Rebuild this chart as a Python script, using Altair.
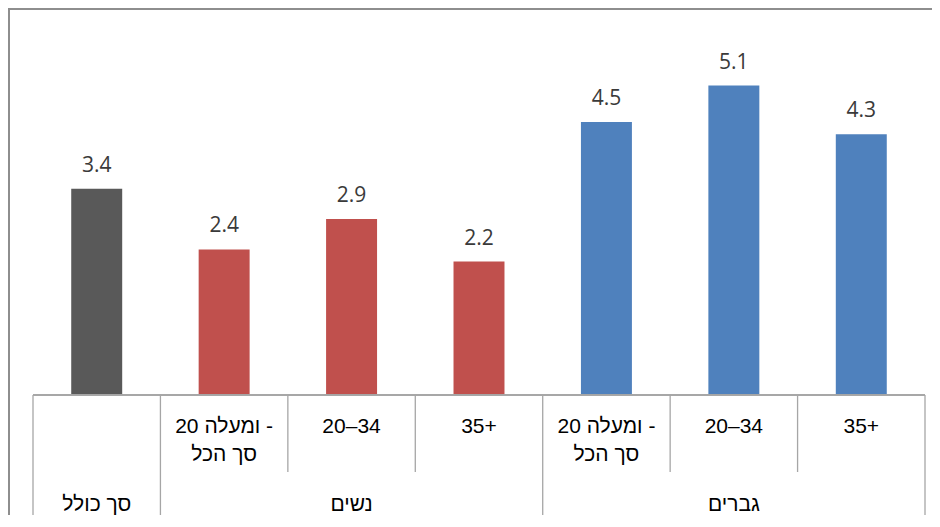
import altair as alt
import pandas as pd

# ---- data ----
values = [3.4, 2.4, 2.9, 2.2, 4.5, 5.1, 4.3]
row1_labels = ["", "\u202A20 ומעלה -\u202C", "20–34", "35+", "\u202A20 ומעלה -\u202C", "20–34", "35+"]
row2_labels = ["", "סך הכל", "", "", "סך הכל", "", ""]
groups = ["סך כולל", "נשים", "גברים"]
group_sizes = [1, 3, 3]
group_colors = ["#595959", "#C0504D", "#4F81BD"]

# ---- tables ----
bar_group = []
for g, n in zip(groups, group_sizes):
    bar_group += [g] * n
n_cat = len(values)
bars_df = pd.DataFrame({
    "idx": list(range(n_cat)),
    "value": values,
    "group": bar_group,
    "row1": row1_labels,
    "row2": row2_labels,
})

bounds = [0]
for n in group_sizes:
    bounds.append(bounds[-1] + n)
long_df = pd.DataFrame({"b": bounds})
short_df = pd.DataFrame({"b": [i for i in range(n_cat + 1) if i not in bounds]})
grp_df = pd.DataFrame({
    "group": groups,
    "start": bounds[:-1],
    "end": bounds[1:],
})

W, H = 892, 364
xs = alt.Scale(domain=[0, n_cat], nice=False, zero=False)
ys = alt.Scale(domain=[0, 6], nice=False)

LABEL_FONT = "Liberation Sans"
VALUE_FONT = "Open Sans"

base = alt.Chart(bars_df)

bars = base.transform_calculate(
    x0="datum.idx + 0.3", x1="datum.idx + 0.7"
).mark_bar().encode(
    x=alt.X("x0:Q", scale=xs, axis=None),
    x2="x1:Q",
    y=alt.Y("value:Q", scale=ys, axis=None),
    y2=alt.datum(0),
    color=alt.Color("group:N", scale=alt.Scale(domain=groups, range=group_colors), legend=None),
)

value_text = base.transform_calculate(xc="datum.idx + 0.5").mark_text(
    baseline="alphabetic", dy=-17, font=VALUE_FONT, fontSize=21, color="#3A3A3A"
).encode(
    x=alt.X("xc:Q", scale=xs),
    y=alt.Y("value:Q", scale=ys),
    text=alt.Text("value:Q", format=".1f"),
)

row1 = base.transform_calculate(xc="datum.idx + 0.5").mark_text(
    baseline="middle", font=LABEL_FONT, fontSize=21, color="#000000"
).encode(
    x=alt.X("xc:Q", scale=xs),
    y=alt.value(396),
    text="row1:N",
)

row2 = base.transform_calculate(xc="datum.idx + 0.5").mark_text(
    baseline="middle", font=LABEL_FONT, fontSize=21, color="#000000"
).encode(
    x=alt.X("xc:Q", scale=xs),
    y=alt.value(424),
    text="row2:N",
)

grp_text = alt.Chart(grp_df).transform_calculate(
    xc="(datum.start + datum.end) / 2"
).mark_text(
    baseline="middle", font=LABEL_FONT, fontSize=21, color="#000000"
).encode(
    x=alt.X("xc:Q", scale=xs),
    y=alt.value(474),
    text="group:N",
)

LINE = "#A6A6A6"
baseline_rule = alt.Chart(grp_df).mark_rule(color=LINE, strokeWidth=1.3).encode(
    x=alt.datum(0, scale=xs),
    x2=alt.datum(n_cat),
    y=alt.value(H),
)

long_rules = alt.Chart(long_df).mark_rule(color=LINE, strokeWidth=1.3).encode(
    x=alt.X("b:Q", scale=xs),
    y=alt.value(H),
    y2=alt.value(486),
)
short_rules = alt.Chart(short_df).mark_rule(color=LINE, strokeWidth=1.3).encode(
    x=alt.X("b:Q", scale=xs),
    y=alt.value(H),
    y2=alt.value(441),
)

BORDER = "#8C8C8C"
border_left = alt.Chart(grp_df).mark_rule(color=BORDER, strokeWidth=1.5).encode(
    x=alt.value(-24),
    y=alt.value(-23),
    y2=alt.value(500),
)
border_top = alt.Chart(grp_df).mark_rule(color=BORDER, strokeWidth=1.5).encode(
    x=alt.value(-25),
    x2=alt.value(W + 10),
    y=alt.value(-22),
)

chart = alt.layer(
    border_left, border_top,
    bars, value_text, baseline_rule, long_rules, short_rules,
    row1, row2, grp_text,
).properties(
    width=W,
    height=H,
    autosize=alt.AutoSizeParams(type="none"),
    padding={"left": 25, "top": 23, "right": 7, "bottom": 120},
).configure_view(stroke=None)

chart.save("out.html", embed_options={"renderer": "svg", "actions": False})
